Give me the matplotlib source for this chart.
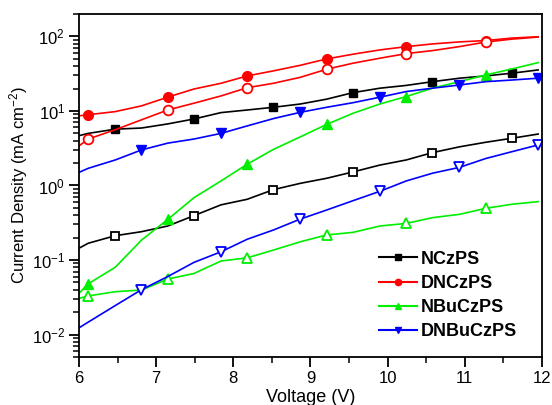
import matplotlib
matplotlib.use('Agg')
import matplotlib.pyplot as plt
from matplotlib.lines import Line2D

plt.rcParams['font.family'] = ['Liberation Sans', 'DejaVu Sans']
plt.rcParams['mathtext.fontset'] = 'custom'
plt.rcParams['mathtext.rm'] = 'Liberation Sans'
plt.rcParams['mathtext.it'] = 'Liberation Sans:italic'
plt.rcParams['mathtext.bf'] = 'Liberation Sans:bold'

# measured points (V), shared by all curves
voltage = [6.0, 6.12, 6.47, 6.81, 7.15, 7.49, 7.84, 8.18, 8.52, 8.87,
           9.21, 9.55, 9.90, 10.24, 10.58, 10.93, 11.27, 11.61, 11.95]

# current density (mA cm^-2); "_a" = filled markers, "_b" = open markers
nczps_a = [4.66, 5.0, 5.7, 5.9, 6.7, 7.8, 9.5, 10.3, 11.2, 12.4,
           14.4, 17.6, 20.2, 22.0, 24.7, 27.5, 29.5, 32.1, 35.5]
nczps_b = [0.144, 0.168, 0.212, 0.24, 0.286, 0.394, 0.55, 0.653, 0.88, 1.07,
           1.25, 1.52, 1.88, 2.2, 2.76, 3.3, 3.8, 4.3, 4.9]
dnczps_a = [8.6, 8.9, 9.8, 11.7, 15.3, 19.7, 23.5, 29.5, 34.5, 41.0,
            49.9, 57.7, 65.9, 72.9, 79.3, 84.4, 88.0, 95.0, 99.0]
dnczps_b = [3.4, 4.2, 5.6, 7.6, 10.3, 12.7, 15.9, 20.5, 23.5, 28.3,
            36.3, 43.7, 51.0, 58.8, 64.5, 73.0, 84.0, 92.0, 98.0]
nbuczps_a = [0.0357, 0.048, 0.08, 0.185, 0.35, 0.686, 1.15, 1.93, 3.05, 4.5,
             6.6, 9.3, 12.4, 15.6, 20.2, 24.7, 30.4, 36.6, 44.5]
nbuczps_b = [0.0306, 0.033, 0.0376, 0.0396, 0.0556, 0.066, 0.097, 0.107, 0.136, 0.176,
             0.217, 0.235, 0.286, 0.31, 0.37, 0.41, 0.494, 0.56, 0.607]
dnbuczps_a = [1.5, 1.7, 2.2, 3.0, 3.7, 4.2, 5.0, 6.3, 7.9, 9.6,
              11.2, 12.9, 15.3, 18.2, 20.2, 22.3, 24.7, 26.0, 27.5]
dnbuczps_b = [0.0123, 0.0147, 0.0245, 0.040, 0.06, 0.093, 0.129, 0.19, 0.253, 0.355,
              0.469, 0.625, 0.836, 1.15, 1.46, 1.75, 2.3, 2.84, 3.5]

names = ['NCzPS', 'DNCzPS', 'NBuCzPS', 'DNBuCzPS']

fig = plt.figure(figsize=(5.52, 4.05), dpi=100)
ax = fig.add_axes([0.1431, 0.1185, 0.8388, 0.847])

styles = [
    # data_a, data_b, color, marker, size, first marker index
    (nczps_a, nczps_b, 'black', 's', 6, 2),
    (dnczps_a, dnczps_b, 'red', 'o', 7, 1),
    (nbuczps_a, nbuczps_b, '#00ee00', '^', 7.5, 1),
    (dnbuczps_a, dnbuczps_b, 'blue', 'v', 7.5, 3),
]

handles = []
for name, (ya, yb, col, mk, ms, start) in zip(names, styles):
    ax.plot(voltage, ya, color=col, lw=1.2, marker=mk, ms=ms,
            markevery=slice(start, None, 3), mfc=col, mec=col)
    ax.plot(voltage, yb, color=col, lw=1.2, marker=mk, ms=ms,
            markevery=slice(start, None, 3), mfc='white', mec=col, mew=1.3)
    handles.append(Line2D([], [], color=col, lw=1.5, marker=mk, ms=4.5,
                          mfc=col, mec=col))

ax.set_yscale('log')
ax.set_xlim(6, 12)
ax.set_ylim(0.005, 200)
ax.set_xticks([6, 7, 8, 9, 10, 11, 12])
ax.set_xticks([6.5, 7.5, 8.5, 9.5, 10.5, 11.5], minor=True)

for s in ax.spines.values():
    s.set_linewidth(1.3)
ax.tick_params(which='major', direction='out', length=7, width=1.3,
               labelsize=12, pad=3)
ax.tick_params(which='minor', direction='out', length=4, width=1.1)
ax.tick_params(top=False, right=False, which='both')

ax.set_xlabel('Voltage (V)', fontsize=13, labelpad=2)
ax.set_ylabel('Current Density (mA cm$^{-2}$)', fontsize=12, labelpad=1)

leg = ax.legend(handles, names, loc='upper left', bbox_to_anchor=(0.628, 0.336),
                frameon=False, prop={'weight': 'bold', 'size': 13},
                handlelength=2.1, handletextpad=0.2, labelspacing=0.4,
                borderpad=0)

fig.savefig('out.png', dpi=100)
